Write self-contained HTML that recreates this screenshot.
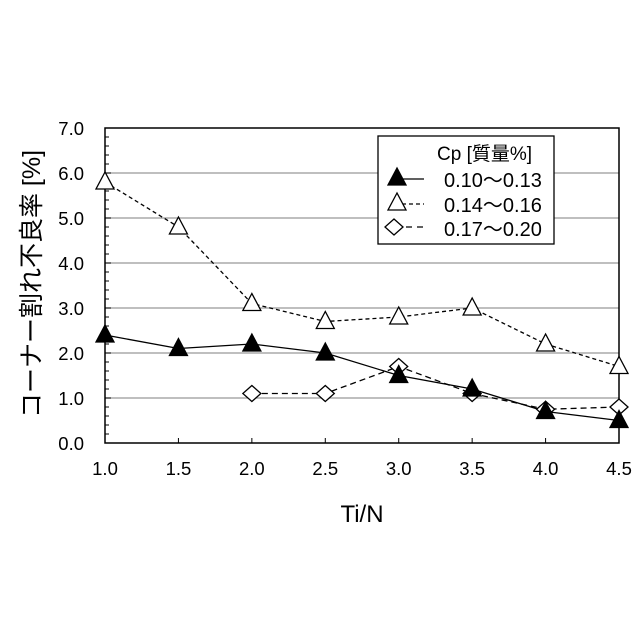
<!DOCTYPE html>
<html><head><meta charset="utf-8"><style>body{margin:0;background:#fff}svg{display:block}text{font-family:"Liberation Sans","Noto Sans CJK JP",sans-serif;fill:#000}</style></head>
<body><svg id="s" width="640" height="640" xmlns="http://www.w3.org/2000/svg"></svg>
<script>
const s=document.getElementById('s');let h='';
const X=v=>105+(v-1)*146.86, Y=v=>443-v*45;
for(let i=1;i<=6;i++)h+=`<line x1="105" x2="619" y1="${Y(i)}" y2="${Y(i)}" stroke="#999" stroke-width="1.2"/>`;
h+=`<rect x="105" y="128" width="514" height="315" fill="none" stroke="#000" stroke-width="1.5"/>`;
for(let i=0;i<=35;i++){const y=Y(i*0.2);h+=`<line x1="105" x2="${i%5?109:111}" y1="${y}" y2="${y}" stroke="#000"/>`;}
for(let i=0;i<=7;i++){h+=`<text x="84" y="${Y(i)+7}" font-size="18.5" text-anchor="end">${i.toFixed(1)}</text>`;}
for(let i=0;i<=7;i++){const v=1+i*0.5;h+=`<line x1="${X(v)}" x2="${X(v)}" y1="443" y2="438" stroke="#000"/><text x="${X(v)}" y="475" font-size="18.5" text-anchor="middle">${v.toFixed(1)}</text>`;}
h+=`<text x="362" y="522" font-size="24" text-anchor="middle">Ti/N</text>`;
h+=`<text transform="translate(40,284) rotate(-90)" font-size="25" text-anchor="middle">コーナー割れ不良率 [%]</text>`;
const s1=[[1,2.4],[1.5,2.1],[2,2.2],[2.5,2],[3,1.5],[3.5,1.2],[4,0.7],[4.5,0.5]];
const s2=[[1,5.8],[1.5,4.8],[2,3.1],[2.5,2.7],[3,2.8],[3.5,3.0],[4,2.2],[4.5,1.7]];
const s3=[[2,1.1],[2.5,1.1],[3,1.7],[3.5,1.1],[4,0.75],[4.5,0.8]];
const pl=(d,da)=>`<polyline points="${d.map(p=>X(p[0])+','+Y(p[1])).join(' ')}" fill="none" stroke="#000" stroke-width="1.3" ${da?`stroke-dasharray="${da}"`:''}/>`;
h+=pl(s3,'6,4')+pl(s2,'4,3')+pl(s1,'');
const tri=(x,y,f)=>`<polygon points="${x},${y-10} ${x-9},${y+7} ${x+9},${y+7}" fill="${f}" stroke="#000" stroke-width="1.3"/>`;
const dia=(x,y)=>`<polygon points="${x},${y-8} ${x+9},${y} ${x},${y+8} ${x-9},${y}" fill="#fff" stroke="#000" stroke-width="1.3"/>`;
s3.forEach(p=>h+=dia(X(p[0]),Y(p[1])));
s2.forEach(p=>h+=tri(X(p[0]),Y(p[1]),'#fff'));
s1.forEach(p=>h+=tri(X(p[0]),Y(p[1]),'#000'));
h+=`<rect x="378" y="136" width="176" height="108" fill="#fff" stroke="#000" stroke-width="1.3"/>`;
h+=`<text x="437" y="160" font-size="19">Cp [質量%]</text>`;
const ly=[181,206,230];
h+=`<line x1="395" x2="424" y1="${ly[0]-2}" y2="${ly[0]-2}" stroke="#000" stroke-width="1.3"/>`+tri(397,ly[0]-3,'#000');
h+=`<line x1="395" x2="424" y1="${ly[1]-2}" y2="${ly[1]-2}" stroke="#000" stroke-width="1.3" stroke-dasharray="4,3"/>`+tri(397,ly[1]-3,'#fff');
h+=`<line x1="395" x2="424" y1="${ly[2]-3}" y2="${ly[2]-3}" stroke="#000" stroke-width="1.3" stroke-dasharray="6,5"/>`+dia(394,ly[2]-3);
['0.10～0.13','0.14～0.16','0.17～0.20'].forEach((t,i)=>h+=`<text x="444" y="${ly[i]+6}" font-size="20">${t}</text>`);
s.innerHTML=h;
</script></body></html>
